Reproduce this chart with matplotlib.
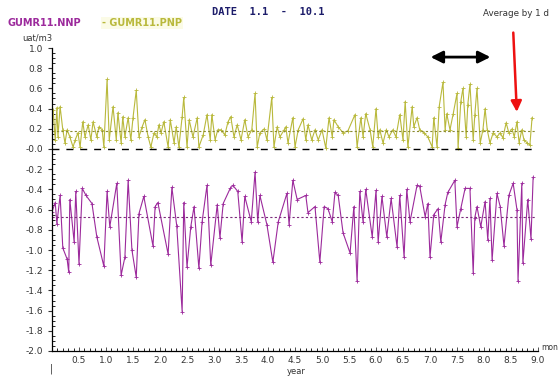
import numpy as np
import matplotlib.pyplot as plt
from matplotlib.ticker import MultipleLocator

# serie GUMR11.NNP (morada)
t_nnp = [0.00, 0.06, 0.09, 0.15, 0.20, 0.28, 0.31, 0.33, 0.41, 0.44, 0.50, 0.56, 0.63, 0.74,
         0.83, 0.96, 1.02, 1.07, 1.20, 1.28, 1.35, 1.41, 1.48, 1.56, 1.61, 1.70, 1.87, 1.91,
         1.96, 2.15, 2.22, 2.31, 2.41, 2.44, 2.50, 2.57, 2.63, 2.72, 2.78, 2.87, 2.94, 3.06,
         3.11, 3.17, 3.30, 3.35, 3.44, 3.52, 3.57, 3.69, 3.76, 3.81, 3.85, 3.98, 4.09, 4.19,
         4.35, 4.39, 4.46, 4.54, 4.70, 4.74, 4.87, 4.96, 5.04, 5.11, 5.19, 5.24, 5.30, 5.39,
         5.52, 5.59, 5.65, 5.70, 5.76, 5.81, 5.93, 6.00, 6.04, 6.11, 6.20, 6.28, 6.39, 6.44,
         6.52, 6.57, 6.63, 6.76, 6.81, 6.91, 6.96, 7.00, 7.07, 7.15, 7.20, 7.28, 7.33, 7.46,
         7.50, 7.57, 7.65, 7.74, 7.80, 7.83, 7.87, 7.94, 8.02, 8.07, 8.11, 8.15, 8.24, 8.30,
         8.37, 8.46, 8.54, 8.61, 8.63, 8.70, 8.72, 8.81, 8.87, 8.91]
v_nnp = [-0.62, -0.53, -0.74, -0.46, -0.98, -1.09, -1.22, -0.50, -0.92, -0.42, -1.14, -0.39,
         -0.46, -0.54, -0.87, -1.16, -0.42, -0.77, -0.34, -1.25, -1.07, -0.31, -1.00, -1.27,
         -0.64, -0.47, -0.96, -0.57, -0.53, -1.04, -0.38, -0.76, -1.61, -0.53, -1.17, -0.77,
         -0.57, -1.18, -0.72, -0.36, -1.15, -0.55, -0.88, -0.54, -0.39, -0.36, -0.42, -0.92,
         -0.47, -0.72, -0.23, -0.72, -0.46, -0.75, -1.12, -0.72, -0.44, -0.75, -0.31, -0.50,
         -0.46, -0.63, -0.57, -1.12, -0.57, -0.59, -0.72, -0.43, -0.46, -0.83, -1.03, -0.57,
         -1.31, -0.42, -0.72, -0.40, -0.87, -0.41, -0.92, -0.47, -0.87, -0.49, -0.97, -0.46,
         -1.07, -0.40, -0.72, -0.36, -0.37, -0.67, -0.54, -1.07, -0.65, -0.59, -0.92, -0.55,
         -0.43, -0.31, -0.77, -0.59, -0.39, -0.39, -1.23, -0.68, -0.57, -0.77, -0.52, -0.90,
         -0.49, -1.10, -0.44, -0.57, -0.96, -0.46, -0.34, -0.60, -1.31, -0.34, -1.13, -0.50,
         -0.89, -0.28]

# serie GUMR11.PNP (oliva)
t_pnp = [0.00, 0.02, 0.06, 0.09, 0.11, 0.15, 0.20, 0.24, 0.28, 0.33, 0.39, 0.43, 0.48, 0.52,
         0.57, 0.61, 0.67, 0.72, 0.76, 0.83, 0.87, 0.93, 0.96, 1.02, 1.06, 1.13, 1.19, 1.22,
         1.28, 1.31, 1.35, 1.41, 1.46, 1.50, 1.56, 1.61, 1.67, 1.72, 1.78, 1.83, 1.89, 1.94,
         1.98, 2.02, 2.07, 2.15, 2.19, 2.26, 2.30, 2.35, 2.41, 2.44, 2.50, 2.54, 2.61, 2.69,
         2.72, 2.80, 2.87, 2.93, 2.96, 3.02, 3.07, 3.13, 3.20, 3.26, 3.31, 3.37, 3.43, 3.50,
         3.57, 3.63, 3.70, 3.76, 3.80, 3.85, 3.93, 3.98, 4.07, 4.11, 4.17, 4.22, 4.30, 4.33,
         4.37, 4.46, 4.50, 4.56, 4.65, 4.70, 4.74, 4.81, 4.87, 4.93, 5.00, 5.07, 5.13, 5.19,
         5.22, 5.30, 5.39, 5.48, 5.61, 5.65, 5.72, 5.76, 5.81, 5.89, 5.94, 6.00, 6.04, 6.07,
         6.13, 6.19, 6.24, 6.31, 6.37, 6.44, 6.50, 6.54, 6.59, 6.67, 6.70, 6.76, 6.81, 6.89,
         6.96, 7.04, 7.07, 7.13, 7.17, 7.24, 7.28, 7.31, 7.37, 7.43, 7.50, 7.52, 7.57, 7.61,
         7.67, 7.70, 7.74, 7.80, 7.83, 7.87, 7.93, 7.98, 8.02, 8.06, 8.11, 8.17, 8.24, 8.30,
         8.35, 8.41, 8.46, 8.52, 8.56, 8.61, 8.65, 8.70, 8.74, 8.80, 8.85, 8.89]
v_pnp = [0.30, 0.39, 0.09, 0.41, 0.12, 0.42, 0.19, 0.06, 0.19, 0.12, 0.02, 0.09, 0.16, 0.02,
         0.27, 0.12, 0.24, 0.09, 0.27, 0.12, 0.22, 0.19, 0.02, 0.69, 0.09, 0.42, 0.09, 0.36,
         0.06, 0.32, 0.12, 0.31, 0.09, 0.31, 0.58, 0.12, 0.22, 0.29, 0.12, 0.02, 0.16, 0.12,
         0.24, 0.16, 0.27, 0.02, 0.29, 0.06, 0.22, 0.02, 0.32, 0.51, 0.02, 0.29, 0.12, 0.31,
         0.02, 0.14, 0.34, 0.09, 0.34, 0.09, 0.19, 0.19, 0.14, 0.27, 0.32, 0.12, 0.24, 0.09,
         0.29, 0.12, 0.19, 0.55, 0.02, 0.16, 0.20, 0.09, 0.51, 0.02, 0.22, 0.12, 0.19, 0.22,
         0.06, 0.31, 0.02, 0.19, 0.30, 0.09, 0.24, 0.09, 0.19, 0.09, 0.19, 0.01, 0.31, 0.12,
         0.29, 0.22, 0.16, 0.18, 0.34, 0.02, 0.31, 0.12, 0.35, 0.19, 0.02, 0.40, 0.12, 0.19,
         0.06, 0.19, 0.12, 0.19, 0.12, 0.34, 0.09, 0.47, 0.02, 0.42, 0.22, 0.31, 0.19, 0.16,
         0.12, 0.02, 0.31, 0.02, 0.42, 0.66, 0.19, 0.35, 0.19, 0.35, 0.55, 0.01, 0.47, 0.60,
         0.12, 0.44, 0.64, 0.09, 0.34, 0.60, 0.06, 0.19, 0.40, 0.19, 0.06, 0.16, 0.12, 0.16,
         0.11, 0.26, 0.16, 0.20, 0.12, 0.27, 0.06, 0.19, 0.09, 0.06, 0.04, 0.31]

media_nnp = -0.67
media_pnp = 0.18

y_ticks = [1.0, 0.8, 0.6, 0.4, 0.2, 0.0, -0.2, -0.4, -0.6, -0.8, -1.0, -1.2, -1.4, -1.6, -1.8, -2.0]
y_labels = ['1.0', '0.8', '0.6', '0.4', '0.2', '-0.0', '-0.2', '-0.4', '-0.6', '-0.8',
            '-1.0', '-1.2', '-1.4', '-1.6', '-1.8', '-2.0']
x_ticks = [0.5, 1.0, 1.5, 2.0, 2.5, 3.0, 3.5, 4.0, 4.5, 5.0, 5.5, 6.0, 6.5, 7.0, 7.5, 8.0, 8.5, 9.0]

c_nnp = '#9c2a9c'
c_pnp = '#b9b93c'

plt.rcParams['font.family'] = 'DejaVu Sans'
fig = plt.figure(figsize=(5.6, 3.78), dpi=100)
ax = fig.add_axes([52/560, 1-351/378, 486/560, 303/378])

ax.plot(t_pnp, v_pnp, color=c_pnp, lw=0.8, marker='+', ms=3, mew=0.6)
ax.plot(t_nnp, v_nnp, color=c_nnp, lw=0.8, marker='+', ms=3, mew=0.6)

# medias y linea del cero
ax.plot([0, 8.95], [media_pnp, media_pnp], color='#8a8a30', lw=0.8, ls=(0, (2, 2)))
ax.plot([0, 8.95], [media_nnp, media_nnp], color='#7a2a7a', lw=0.8, ls=(0, (2, 2)))
ax.plot([0, 8.92], [0, 0], color='black', lw=1.0, ls=(0, (5, 5)))

ax.set_xlim(0, 9.0)
ax.set_ylim(-2.0, 1.0)
ax.set_yticks(y_ticks)
ax.set_yticklabels(y_labels)
ax.set_xticks(x_ticks)
ax.set_xticklabels([f'{x:.1f}' for x in x_ticks])
ax.yaxis.set_minor_locator(MultipleLocator(0.05))
ax.xaxis.set_minor_locator(MultipleLocator(0.1))
ax.tick_params(axis='both', labelsize=6.5, colors='#333333', length=3, width=0.8)
ax.tick_params(axis='y', which='minor', direction='in', length=2, width=0.6)
ax.tick_params(axis='x', which='both', direction='in', length=3, width=0.6)
ax.tick_params(axis='x', which='minor', length=2)
for s in ['top', 'right']:
    ax.spines[s].set_visible(False)
for s in ['left', 'bottom']:
    ax.spines[s].set_linewidth(0.9)

# textos
fig.text(268/560, 1-12/378, 'DATE  1.1  -  10.1', color='#1c1c6a', fontsize=7.5,
         fontweight='bold', ha='center', va='center', family='DejaVu Sans Mono')
fig.text(8/560, 1-23/378, 'GUMR11.NNP', color=c_nnp, fontsize=7, fontweight='bold',
         ha='left', va='center')
fig.text(102/560, 1-23/378, '- GUMR11.PNP', color=c_pnp, fontsize=7, fontweight='bold',
         ha='left', va='center',
         bbox=dict(facecolor='#fbfbe6', edgecolor='none', pad=1))
fig.text(483/560, 1-13/378, 'Average by 1 d', color='#333333', fontsize=6.3, ha='left', va='center')
fig.text(22/560, 1-38/378, 'uat/m3', color='#333333', fontsize=6, ha='left', va='center')
fig.text(296/560, 1-372/378, 'year', color='#333333', fontsize=6, ha='center', va='center')
fig.text(541/560, 1-348/378, 'mon', color='#333333', fontsize=5.5, ha='left', va='center')
fig.text(51/560, 1-369/378, '|', color='#333333', fontsize=7, ha='center', va='center')

# flechas
ax.annotate('', xy=(8.17, 0.91), xytext=(6.96, 0.91), xycoords='data',
            arrowprops=dict(arrowstyle='<|-|>', color='black', lw=2, mutation_scale=18))
ax.annotate('', xy=(8.61, 0.34), xytext=(8.54, 1.18), xycoords='data', annotation_clip=False,
            arrowprops=dict(arrowstyle='-|>', color='#ee1111', lw=1.8, mutation_scale=16))

fig.savefig('out.png', dpi=100)
